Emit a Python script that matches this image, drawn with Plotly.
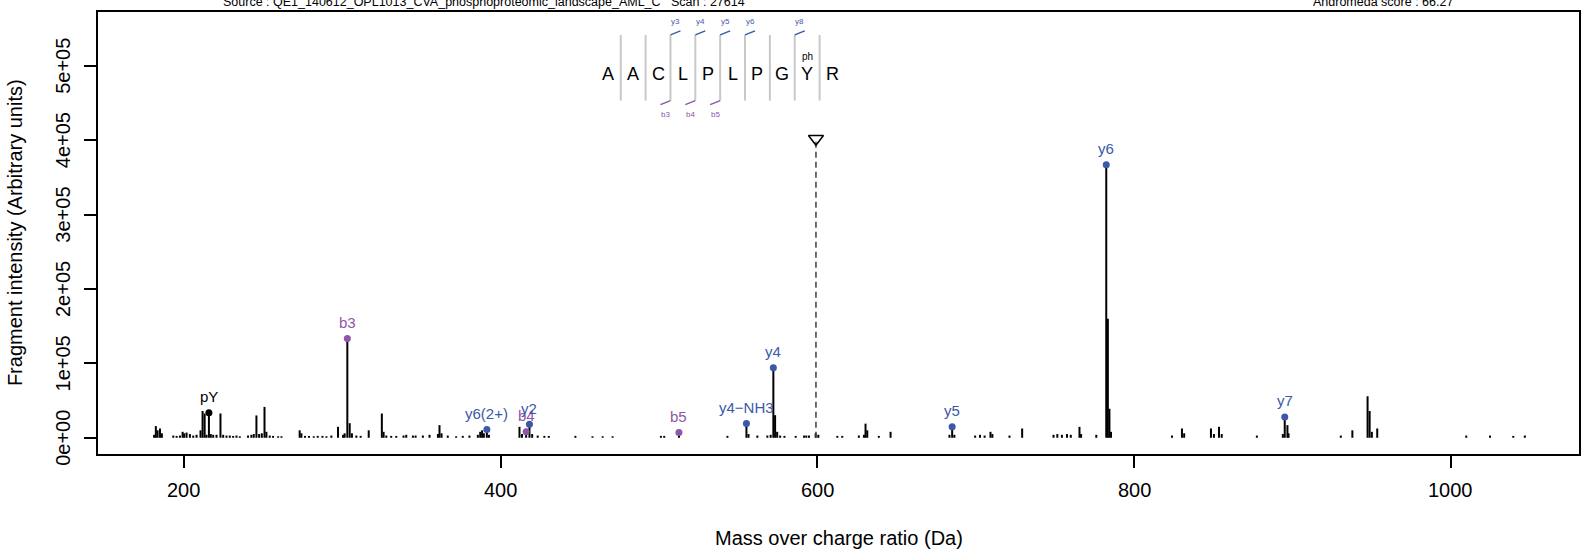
import plotly.graph_objects as go

# ---------------- data ----------------
peak_mz = [181.2, 182.3, 183.4, 184.9, 186.1, 193.3, 195.4, 197.5, 199.2, 200.2,
           201.7, 203.8, 205.9, 208.0, 210.5, 211.8, 213.1, 214.3, 217.0, 218.5,
           220.6, 223.1, 224.8, 226.9, 229.0, 231.1, 233.2, 235.3, 240.5, 242.6,
           244.1, 245.8, 247.5, 249.2, 250.9, 252.1, 254.2, 256.3, 259.5, 261.6,
           273.1, 274.2, 276.5, 279.0, 282.0, 284.5, 287.5, 290.0, 293.1, 297.3,
           300.5, 301.5, 304.7, 306.1, 308.9, 311.6, 316.7, 325.0, 326.1, 327.8,
           330.9, 334.1, 338.7, 340.4, 344.6, 346.3, 350.9, 355.1, 360.4, 361.4,
           362.7, 366.6, 371.9, 376.1, 380.3, 385.6, 387.1, 388.3, 389.4, 392.6,
           411.9, 413.5, 419.9, 423.4, 427.6, 430.4, 447.2, 458.0, 464.4, 470.7,
           501.2, 503.3, 543.2, 556.5, 562.1, 568.4, 570.5, 573.3, 574.6, 576.5,
           579.2, 586.3, 591.6, 593.0, 594.7, 598.9, 600.6, 612.6, 615.7, 626.2,
           629.4, 630.4, 631.5, 638.8, 646.2, 683.4, 686.5, 699.6, 702.7, 705.6,
           709.3, 710.5, 721.3, 729.3, 749.1, 751.5, 754.4, 757.6, 760.0, 765.5,
           766.5, 776.1, 783.4, 784.4, 785.4, 823.9, 830.2, 831.6, 848.5, 850.4,
           853.6, 855.3, 877.5, 893.9, 896.8, 897.5, 930.5, 937.8, 947.4, 948.7,
           950.1, 953.5, 1009.7, 1024.7, 1039.4, 1046.7]
peak_int = [4000, 15700, 10000, 12500, 6000, 3000, 2500, 3000, 8000, 6000,
            7000, 5000, 3000, 4000, 10000, 36000, 32600, 4000, 5000, 4000,
            4000, 32600, 4000, 3000, 3000, 2500, 3000, 2000, 3000, 4000,
            5000, 30000, 5000, 6000, 41500, 8000, 3000, 2500, 2000, 2000,
            10000, 6000, 2500, 2500, 2000, 2500, 2500, 2000, 3000, 14700,
            4000, 6000, 19600, 6000, 3000, 2500, 10000, 32600, 8000, 3000,
            2500, 2500, 3000, 4000, 3000, 3000, 3000, 4000, 5000, 17000,
            6000, 3000, 2000, 2500, 3000, 4000, 8000, 10000, 6000, 4000,
            14700, 5000, 5000, 3000, 2500, 2500, 2500, 2000, 2000, 2000,
            2500, 2500, 2500, 5000, 3000, 3000, 4000, 30400, 8000, 3000,
            2500, 2500, 3000, 3000, 3000, 6000, 4000, 2500, 2500, 3000,
            4000, 19000, 10000, 2500, 8000, 4000, 4000, 3000, 4000, 3000,
            8000, 5000, 3000, 12500, 4000, 5000, 4000, 5000, 4000, 14700,
            5000, 4000, 160000, 39000, 8000, 3000, 12500, 6000, 12500, 5000,
            14700, 5000, 3000, 5000, 17000, 6000, 3000, 10000, 55800, 36000,
            8000, 12500, 3000, 3000, 2500, 3000]

ion_labels = ["pY", "b3", "y6(2+)", "b4", "y2", "b5", "y4\u2212NH3", "y4", "y5", "y6", "y7"]
ion_types = ["imm", "b", "y", "b", "y", "b", "y", "y", "y", "y", "y"]
ion_mz = [215.8, 303.2, 391.3, 416.1, 418.2, 512.6, 555.2, 572.2, 685.1, 782.4, 895.1]
ion_int = [33500, 133500, 11200, 8000, 18300, 7200, 19200, 94200, 14700, 367000, 28000]

peptide = ["A", "A", "C", "L", "P", "L", "P", "G", "Y", "R"]
y_ion_marks = ["y3", "y4", "y5", "y6", "y8"]
y_ion_sites = [3, 4, 5, 6, 8]
b_ion_marks = ["b3", "b4", "b5"]
b_ion_sites = [3, 4, 5]
mod_label = "ph"
mod_site = 8

precursor_mz = 599.1
precursor_mark = 402000

x_ticks = [200, 400, 600, 800, 1000]
y_ticks = [0, 100000, 200000, 300000, 400000, 500000]
y_tick_labels = ["0e+00", "1e+05", "2e+05", "3e+05", "4e+05", "5e+05"]

source_text = "Source : QE1_140612_OPL1013_CVA_phosphoproteomic_landscape_AML_C\u00a0\u00a0\u00a0Scan : 27614"
score_text = "Andromeda score : 66.27"
x_title = "Mass over charge ratio (Da)"
y_title = "Fragment intensity (Arbitrary units)"

# ---------------- style / layout ----------------
W, H = 1591, 554
ML, MR, MT, MB = 98, 10, 10, 100
PW, PH = W - ML - MR, H - MT - MB
X0, X1 = 145.77, 1080.9
Y0, Y1 = -21810, 572300
FONT = "Liberation Sans, Arial, Helvetica, sans-serif"
BLUE = "#3C58A8"
PURPLE = "#8E55A8"
SEP_GRAY = "#C8C8C8"
col = {"y": BLUE, "b": PURPLE, "imm": "black"}


def dxp(px):  # pixels -> data x delta
    return px * (X1 - X0) / PW


def dyp(px):  # pixels -> data y delta
    return px * (Y1 - Y0) / PH


def xpx(px):  # absolute pixel -> data x
    return X0 + dxp(px - ML)


def ypx(py):  # absolute pixel -> data y
    return Y1 - dyp(py - MT)


fig = go.Figure()

# plain peaks as sticks
sx, sy = [], []
for m, v in zip(peak_mz + ion_mz, peak_int + ion_int):
    sx += [m, m, None]
    sy += [0, v, None]
fig.add_trace(go.Scatter(x=sx, y=sy, mode="lines", line=dict(color="black", width=2),
                         hoverinfo="skip", showlegend=False))

# annotated ion dots
fig.add_trace(go.Scatter(x=ion_mz, y=ion_int, mode="markers",
                         marker=dict(size=7, color=[col[t] for t in ion_types]),
                         showlegend=False, hoverinfo="skip"))

annotations = []
for lab, t, m, v in zip(ion_labels, ion_types, ion_mz, ion_int):
    annotations.append(dict(x=m, y=v, xref="x", yref="y", text=lab, showarrow=False,
                            yshift=16, font=dict(family=FONT, size=15, color=col[t])))

# precursor
fig.add_trace(go.Scatter(x=[precursor_mz, precursor_mz], y=[0, precursor_mark], mode="lines",
                         line=dict(color="#404040", width=1.5, dash="6px,4px"),
                         showlegend=False, hoverinfo="skip"))
fig.add_trace(go.Scatter(x=[precursor_mz], y=[precursor_mark], mode="markers",
                         marker=dict(symbol="triangle-down-open", size=13, color="black",
                                     line=dict(width=1.5, color="black")),
                         showlegend=False, hoverinfo="skip"))

# peptide sequence drawing
pep_x0 = xpx(609)
pep_dx = dxp(24.89)
letter_y = ypx(72)
sep_top, sep_bot = ypx(33), ypx(99)
for i, aa in enumerate(peptide):
    annotations.append(dict(x=pep_x0 + i * pep_dx, y=letter_y, xref="x", yref="y", text=aa,
                            showarrow=False, font=dict(family=FONT, size=18, color="black")))
sepx, sepy = [], []
for i in range(1, len(peptide)):
    xs = pep_x0 + (i - 0.5) * pep_dx
    sepx += [xs, xs, None]
    sepy += [sep_bot, sep_top, None]
fig.add_trace(go.Scatter(x=sepx, y=sepy, mode="lines", line=dict(color=SEP_GRAY, width=2),
                         showlegend=False, hoverinfo="skip"))

yx, yy = [], []
for lab, s in zip(y_ion_marks, y_ion_sites):
    xs = pep_x0 + (s - 0.5) * pep_dx
    yx += [xs, xs + dxp(10), None]
    yy += [sep_top, sep_top + dyp(4), None]
    annotations.append(dict(x=xs + dxp(5), y=ypx(20), xref="x", yref="y", text=lab,
                            showarrow=False, font=dict(family=FONT, size=8, color=BLUE)))
fig.add_trace(go.Scatter(x=yx, y=yy, mode="lines", line=dict(color=BLUE, width=1.5),
                         showlegend=False, hoverinfo="skip"))
bx, by = [], []
for lab, s in zip(b_ion_marks, b_ion_sites):
    xs = pep_x0 + (s - 0.5) * pep_dx
    bx += [xs - dxp(10), xs, None]
    by += [sep_bot - dyp(4), sep_bot, None]
    annotations.append(dict(x=xs - dxp(5), y=ypx(113), xref="x", yref="y", text=lab,
                            showarrow=False, font=dict(family=FONT, size=8, color=PURPLE)))
fig.add_trace(go.Scatter(x=bx, y=by, mode="lines", line=dict(color=PURPLE, width=1.5),
                         showlegend=False, hoverinfo="skip"))
annotations.append(dict(x=pep_x0 + mod_site * pep_dx, y=ypx(55), xref="x", yref="y",
                        text=mod_label, showarrow=False,
                        font=dict(family=FONT, size=10, color="black")))

# tick labels
for v in x_ticks:
    annotations.append(dict(x=v, y=(MT + PH - 490) / PH, xref="x", yref="paper",
                            text=str(v), showarrow=False, yanchor="middle",
                            font=dict(family=FONT, size=20, color="black")))
for v, lab in zip(y_ticks, y_tick_labels):
    annotations.append(dict(x=(63 - ML) / PW, y=v, xref="paper", yref="y", text=lab,
                            showarrow=False, textangle=-90, xanchor="center", yanchor="middle",
                            font=dict(family=FONT, size=20, color="black")))

# axis titles
annotations.append(dict(x=0.5, y=(MT + PH - 538) / PH, xref="paper", yref="paper", text=x_title,
                        showarrow=False, yanchor="middle",
                        font=dict(family=FONT, size=20, color="black")))
annotations.append(dict(x=(15 - ML) / PW, y=0.5, xref="paper", yref="paper", text=y_title,
                        showarrow=False, textangle=-90, xanchor="center", yanchor="middle",
                        font=dict(family=FONT, size=20, color="black")))

# header texts (partly clipped at the top edge, as in the original)
annotations.append(dict(x=(221 - ML) / PW, y=(MT + PH - 0) / PH, xref="paper", yref="paper",
                        text=source_text, showarrow=False, xanchor="left", yanchor="middle",
                        font=dict(family=FONT, size=12.5, color="black")))
annotations.append(dict(x=(1457 - ML) / PW, y=(MT + PH - 0) / PH, xref="paper", yref="paper",
                        text=score_text, showarrow=False, xanchor="right", yanchor="middle",
                        font=dict(family=FONT, size=12.5, color="black")))

axis_common = dict(showline=True, mirror=True, linecolor="black", linewidth=1.5,
                   ticks="outside", ticklen=12, tickwidth=1.5, tickcolor="black",
                   showgrid=False, zeroline=False, showticklabels=False)
fig.update_layout(
    width=W, height=H,
    margin=dict(l=ML, r=MR, t=MT, b=MB),
    paper_bgcolor="white", plot_bgcolor="white",
    xaxis=dict(range=[X0, X1], tickmode="array", tickvals=x_ticks, **axis_common),
    yaxis=dict(range=[Y0, Y1], tickmode="array", tickvals=y_ticks, **axis_common),
    annotations=annotations,
    showlegend=False,
    font=dict(family=FONT),
)

fig.write_html("out.html", config={"displayModeBar": False},
               post_script="document.body.style.margin='0';document.body.style.overflow='hidden';")
